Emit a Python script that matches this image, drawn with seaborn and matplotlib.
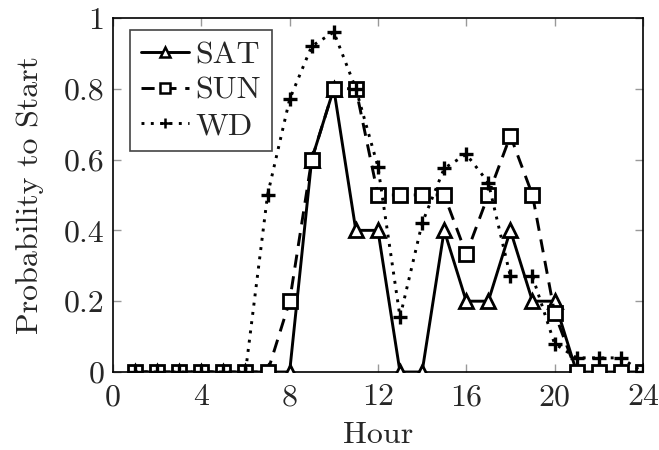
import matplotlib
matplotlib.use("Agg")
import matplotlib.pyplot as plt
import seaborn as sns
import pandas as pd

hours = list(range(1, 25))
sat = [0, 0, 0, 0, 0, 0, 0, 0, 0.6, 0.8, 0.4, 0.4, 0, 0, 0.4, 0.2, 0.2, 0.4, 0.2, 0.2, 0, 0, 0, 0]
sun = [0, 0, 0, 0, 0, 0, 0, 0.2, 0.6, 0.8, 0.8, 0.5, 0.5, 0.5, 0.5, 0.333, 0.5, 0.667, 0.5, 0.167, 0, 0, 0, 0]
wd = [0, 0, 0, 0, 0, 0, 0.5, 0.77, 0.92, 0.96, 0.8, 0.58, 0.155, 0.42, 0.575, 0.615, 0.535, 0.27, 0.27, 0.08, 0.04, 0.04, 0.04, 0]
xticks = [0, 4, 8, 12, 16, 20, 24]
yticks = [0, 0.2, 0.4, 0.6, 0.8, 1.0]
ytick_labels = ["0", "0.2", "0.4", "0.6", "0.8", "1"]

sns.set_style("ticks")
plt.rcParams["font.family"] = ["cmr10", "DejaVu Serif"]
plt.rcParams["axes.formatter.use_mathtext"] = True
plt.rcParams["mathtext.fontset"] = "cm"

fig = plt.figure(figsize=(6.59, 4.5), dpi=100)
ax = fig.add_axes([0.1715, 0.1733, 0.804, 0.787])

df = pd.DataFrame({"hour": hours, "SAT": sat, "SUN": sun, "WD": wd})

sns.lineplot(data=df, x="hour", y="SAT", ax=ax, color="black", lw=2.1,
             marker="^", markersize=9.5, markerfacecolor="white",
             markeredgecolor="black", markeredgewidth=2, label="SAT", zorder=3)
sns.lineplot(data=df, x="hour", y="SUN", ax=ax, color="black", lw=2.1,
             linestyle=(0, (4.5, 3)), marker="s", markersize=10, markerfacecolor="white",
             markeredgecolor="black", markeredgewidth=2, label="SUN", zorder=4)
sns.lineplot(data=df, x="hour", y="WD", ax=ax, color="black", lw=2.1,
             linestyle=(0, (1, 2.2)), marker="+", markersize=9.5,
             markeredgecolor="black", markeredgewidth=2.4, label="WD", zorder=5)

ax.set_xlim(0, 24)
ax.set_ylim(0, 1)
ax.set_xticks(xticks)
ax.set_xticklabels([str(t) for t in xticks])
ax.set_yticks(yticks)
ax.set_yticklabels(ytick_labels)
ax.tick_params(direction="in", top=True, right=True, length=6, width=1,
               color="#999999", labelsize=23)
ax.tick_params(axis="x", pad=8.5)
ax.tick_params(axis="y", pad=6)
for s in ax.spines.values():
    s.set_color("black")
    s.set_linewidth(1.2)
ax.set_xlabel("Hour", fontsize=23, labelpad=7.5)
ax.set_ylabel("Probability to Start", fontsize=23, labelpad=14)

leg = ax.legend(loc="upper left", bbox_to_anchor=(0.032, 0.966), borderaxespad=0,
                fontsize=23, frameon=True, fancybox=False,
                edgecolor="#444444", framealpha=1, handlelength=1.5,
                handletextpad=0.2, borderpad=0.35, labelspacing=0.22)
leg.get_frame().set_linewidth(1.2)
for h in leg.legend_handles:
    h.set_markersize(7)
    h.set_markeredgewidth(1.8)

fig.savefig("out.png", dpi=100)
